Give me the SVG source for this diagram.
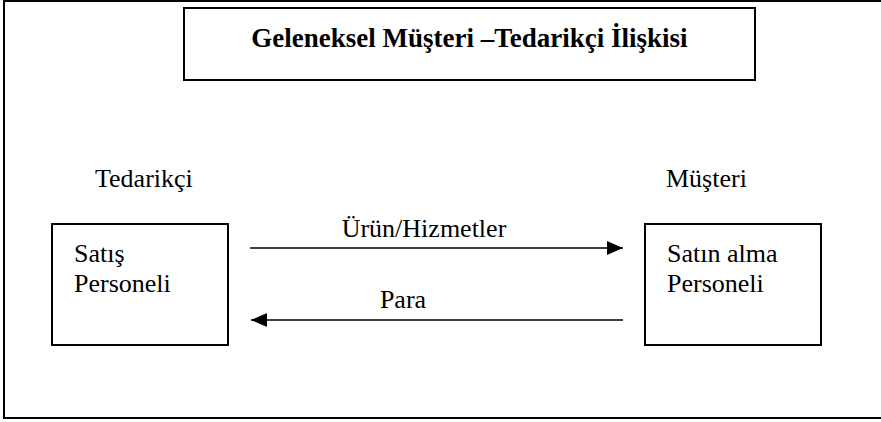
<svg xmlns="http://www.w3.org/2000/svg" width="881" height="422" viewBox="0 0 881 422">
  <defs>
    <marker id="arrowhead" viewBox="0 0 16 14" refX="16" refY="7" markerWidth="16" markerHeight="14" markerUnits="userSpaceOnUse" orient="auto">
      <path d="M0,0 L16,7 L0,14 Z" fill="#000"/>
    </marker>
  </defs>
  <style>
    .frame { fill: none; stroke: #000; stroke-width: 2; }
    .box { fill: #fff; stroke: #000; stroke-width: 2; }
    .label { font-size: 26px; fill: #000; }
    .title { font-size: 27px; font-weight: bold; fill: #000; }
    .link { stroke: #000; stroke-width: 1.6; fill: none; marker-end: url(#arrowhead); }
  </style>
  <rect width="881" height="422" fill="#fff"/>

  <!-- outer frame -->
  <rect class="frame" x="4" y="1" width="884" height="417"/>

  <g font-family="'Liberation Serif', 'Times New Roman', Times, serif">
    <!-- title -->
    <g id="title">
      <rect class="box" x="184" y="8" width="571" height="72"/>
      <text class="title" x="469.5" y="47" text-anchor="middle">Geleneksel Müşteri –Tedarikçi İlişkisi</text>
    </g>

    <!-- side headings -->
    <text class="label" x="95" y="187">Tedarikçi</text>
    <text class="label" x="666" y="187">Müşteri</text>

    <g id="supplier">
      <rect class="box" x="52" y="224" width="176" height="121"/>
      <text class="label" x="74" y="262">Satış</text>
      <text class="label" x="74" y="292">Personeli</text>
    </g>

    <g id="customer">
      <rect class="box" x="645" y="224" width="176" height="121"/>
      <text class="label" x="667" y="262">Satın alma</text>
      <text class="label" x="667" y="292">Personeli</text>
    </g>

    <g id="connectors">
      <line class="link" x1="250" y1="248" x2="623" y2="248"/>
      <text class="label" x="424" y="237" text-anchor="middle">Ürün/Hizmetler</text>
      <line class="link" x1="623" y1="320" x2="251" y2="320"/>
      <text class="label" x="403" y="308" text-anchor="middle">Para</text>
    </g>
  </g>
</svg>
